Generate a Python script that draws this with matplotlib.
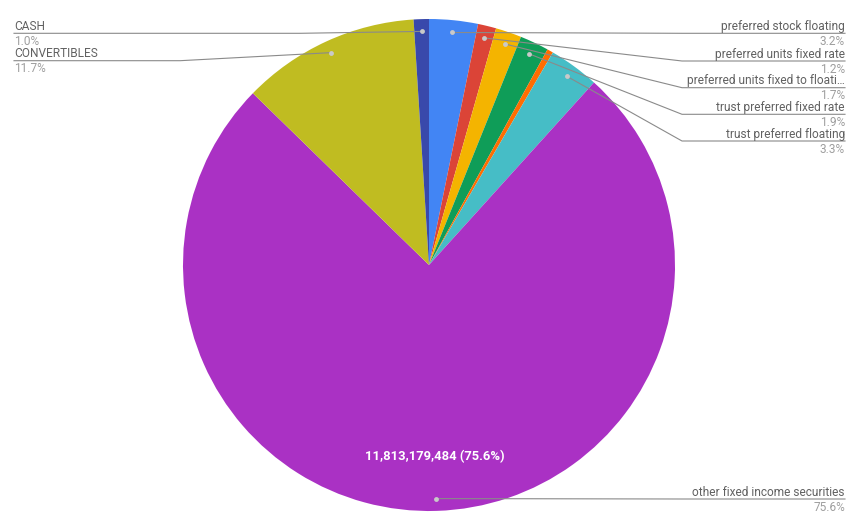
import numpy as np
import matplotlib.pyplot as plt

plt.rcParams['font.family'] = ['Roboto', 'DejaVu Sans']

# slices, clockwise from 12 o'clock
categories = ['preferred stock floating', 'preferred units fixed rate',
              'preferred units fixed to floating', 'trust preferred fixed rate',
              'trust preferred fixed to floating', 'trust preferred floating',
              'other fixed income securities', 'CONVERTIBLES', 'CASH']
values = [500000000, 187500000, 265600000, 296900000, 62500000,
          515600000, 11813179484, 1828200000, 156300000]
colors = ['#4285f4', '#db4437', '#f4b400', '#0f9d58', '#ff6d01',
          '#46bdc6', '#aa31c4', '#c0bc21', '#3949ab']
shown = ['preferred stock floating', 'preferred units fixed rate',
         'preferred units fixed to floati\u2026', 'trust preferred fixed rate',
         None, 'trust preferred floating', 'other fixed income securities',
         'CONVERTIBLES', 'CASH']

W, H = 861, 529
fig = plt.figure(figsize=(W / 100, H / 100), dpi=100)
ax = fig.add_axes([0, 0, 1, 1])

cx, cy, R = 429, H - 265, 246
wedges, _ = ax.pie(values, colors=colors, startangle=90, counterclock=False,
                   center=(cx, cy), radius=R, wedgeprops=dict(linewidth=0))
ax.set_xlim(0, W)
ax.set_ylim(0, H)
ax.axis('off')

total = sum(values)
cum = np.cumsum([0] + values[:-1])
mids = [(c + v / 2) / total * 2 * np.pi for c, v in zip(cum, values)]

# label layout: (side, line y in pixels from top, bend x)
layout = {0: ('r', 33.3, 682), 1: ('r', 61, 682), 2: ('r', 87.7, 682),
          3: ('r', 114.3, 682), 5: ('r', 141, 682), 6: ('r', 499, 682),
          7: ('l', 60.7, 180), 8: ('l', 33.3, 300)}

name_col, pct_col, line_col = '#616161', '#9e9e9e', '#8a8a8a'
fs = 8.6
for i, (side, ly, bx) in layout.items():
    a = mids[i]
    dx = cx + 0.95 * R * np.sin(a)
    dy = cy + 0.95 * R * np.cos(a)
    ly = H - ly
    end = 845 if side == 'r' else 14
    ax.plot([dx, bx, end], [dy, ly, ly], color=line_col, lw=0.8, zorder=3)
    ax.plot(dx, dy, 'o', ms=3.5, color='#c9c9c9', mec='none', zorder=4)
    ha = 'right' if side == 'r' else 'left'
    pct = '%.1f%%' % (values[i] / total * 100)
    ax.text(end, ly + 3.3, shown[i], ha=ha, va='baseline', fontsize=fs,
            color=name_col)
    ax.text(end, ly - 11.7, pct, ha=ha, va='baseline', fontsize=fs,
            color=pct_col)

# value label inside the big slice
big = int(np.argmax(values))
a = mids[big]
tx = cx + 0.78 * R * np.sin(a)
ty = cy + 0.78 * R * np.cos(a)
ax.text(tx, ty, '{:,} ({:.1f}%)'.format(values[big], values[big] / total * 100),
        ha='center', va='center', fontsize=9.4, fontweight='bold', color='white')

fig.savefig('out.png', dpi=100, facecolor='white')
